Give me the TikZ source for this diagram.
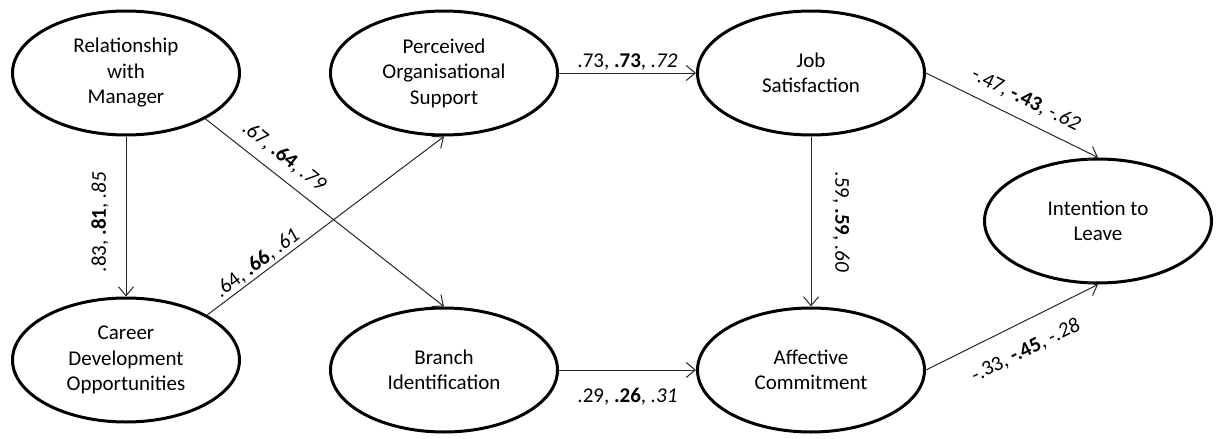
\documentclass[tikz,border=0pt]{standalone}
\usepackage{fontspec}
\setmainfont{Carlito}
\usetikzlibrary{arrows.meta,shapes.geometric}
\begin{document}
\begin{tikzpicture}[x=1pt,y=-1pt,
  construct/.style={ellipse,draw,line width=3pt,minimum width=227pt,minimum height=124pt,inner sep=0pt,align=center,font=\fontsize{21}{25.5}\selectfont},
  path/.style={draw=black!85,line width=1pt,-{Straight Barb[length=9pt,width=15pt,line width=1pt]}},
  lbl/.style={font=\fontsize{21}{25.5}\selectfont,inner sep=2pt}]
\useasboundingbox (0,0) rectangle (1224,439);
\node[construct] (rwm) at (126,73) {Relationship\\with\\Manager};
\node[construct] (cdo) at (126,360) {Career\\Development\\Opportunities};
\node[construct] (pos) at (444,73) {Perceived\\Organisational\\Support};
\node[construct] (bi) at (444,370) {Branch\\Identification};
\node[construct] (js) at (811,73) {Job\\Satisfaction};
\node[construct] (ac) at (811,370) {Affective\\Commitment};
\node[construct] (itl) at (1098,221) {Intention to\\Leave};

\draw[path] (rwm) -- (cdo);
\draw[path] (rwm.-30) -- node[lbl,sloped,above=8pt,pos=0.28] {.67, \textbf{.64}, \textit{.79}} (bi.north);
\draw[path] (cdo.29) -- node[lbl,sloped,above=0pt,pos=0.24] {.64, \textbf{.66}, \textit{.61}} (pos.south);
\draw[path] (pos) -- node[lbl,above] {.73, \textbf{.73}, \textit{.72}} (js);
\draw[path] (bi) -- node[lbl,below=16pt] {.29, \textbf{.26}, \textit{.31}} (ac);
\draw[path] (js) -- (ac);
\draw[path] (js.east) -- node[lbl,sloped,above=9pt,pos=0.53] {-.47, \textbf{-.43}, \textit{-.62}} (itl.north);
\draw[path] (ac.east) -- node[lbl,sloped,below=16pt,pos=0.51] {-.33, \textbf{-.45}, \textit{-.28}} (itl.south);
\node[lbl,rotate=90] (l1) at (100,222) {.83, \textbf{.81}, \textit{.85}};
\node[lbl,rotate=-90] (l2) at (841,222) {.59, \textbf{.59}, \textit{.60}};
\end{tikzpicture}
\end{document}
